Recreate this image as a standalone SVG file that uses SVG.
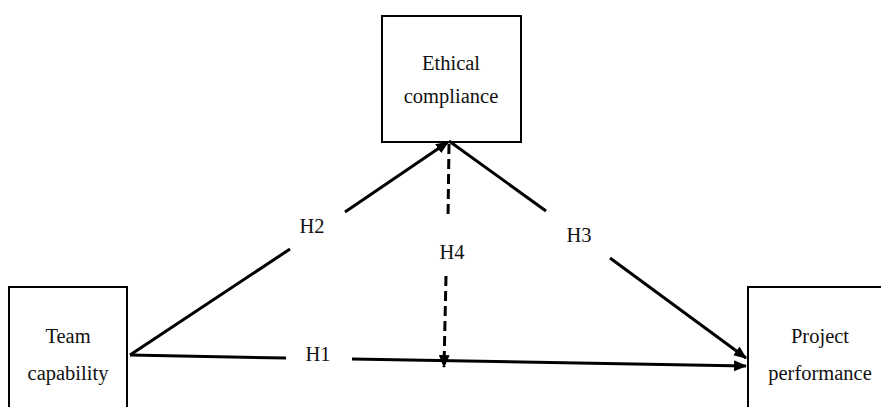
<svg xmlns="http://www.w3.org/2000/svg" width="881" height="407" viewBox="0 0 881 407">
<defs>
<style>
.box{fill:#fff;stroke:#000;stroke-width:2}
.lbl{font-family:"Liberation Serif","Times New Roman",serif;font-size:20.5px;fill:#111;text-anchor:middle}
.ln{stroke:#000;stroke-width:3;fill:none;stroke-linecap:butt}
.dash{stroke-dasharray:10 5}
</style>
<marker id="ah" viewBox="0 0 12 10" refX="11" refY="5" markerWidth="13" markerHeight="11" markerUnits="userSpaceOnUse" orient="auto">
<path d="M0,0 L12,5 L0,10 z" fill="#000"/>
</marker>
</defs>
<rect width="881" height="407" fill="#fff"/>
<g id="ethical">
<rect class="box" x="382" y="16" width="139" height="126"/>
<text class="lbl" x="451" y="70">Ethical</text>
<text class="lbl" x="451" y="103">compliance</text>
</g>
<g id="team">
<rect class="box" x="9" y="287" width="118" height="130"/>
<text class="lbl" x="68" y="343">Team</text>
<text class="lbl" x="68" y="380">capability</text>
</g>
<g id="project">
<rect class="box" x="748" y="287" width="150" height="130"/>
<text class="lbl" x="820" y="343">Project</text>
<text class="lbl" x="820" y="380">performance</text>
</g>
<g id="connectors">
<line class="ln" x1="130" y1="355" x2="286" y2="358"/>
<line class="ln" x1="352" y1="359" x2="746" y2="366" marker-end="url(#ah)"/>
<text class="lbl" x="318" y="361">H1</text>
<line class="ln" x1="130" y1="355" x2="290" y2="249"/>
<line class="ln" x1="345" y1="212" x2="448" y2="142" marker-end="url(#ah)"/>
<text class="lbl" x="312" y="233">H2</text>
<line class="ln" x1="449" y1="141" x2="546" y2="211"/>
<line class="ln" x1="610" y1="258" x2="746" y2="358" marker-end="url(#ah)"/>
<text class="lbl" x="579" y="242">H3</text>
<line class="ln dash" x1="449" y1="144" x2="448" y2="218"/>
<line class="ln dash" x1="446" y1="276" x2="444" y2="367" marker-end="url(#ah)"/>
<text class="lbl" x="452" y="259">H4</text>
</g>
</svg>
